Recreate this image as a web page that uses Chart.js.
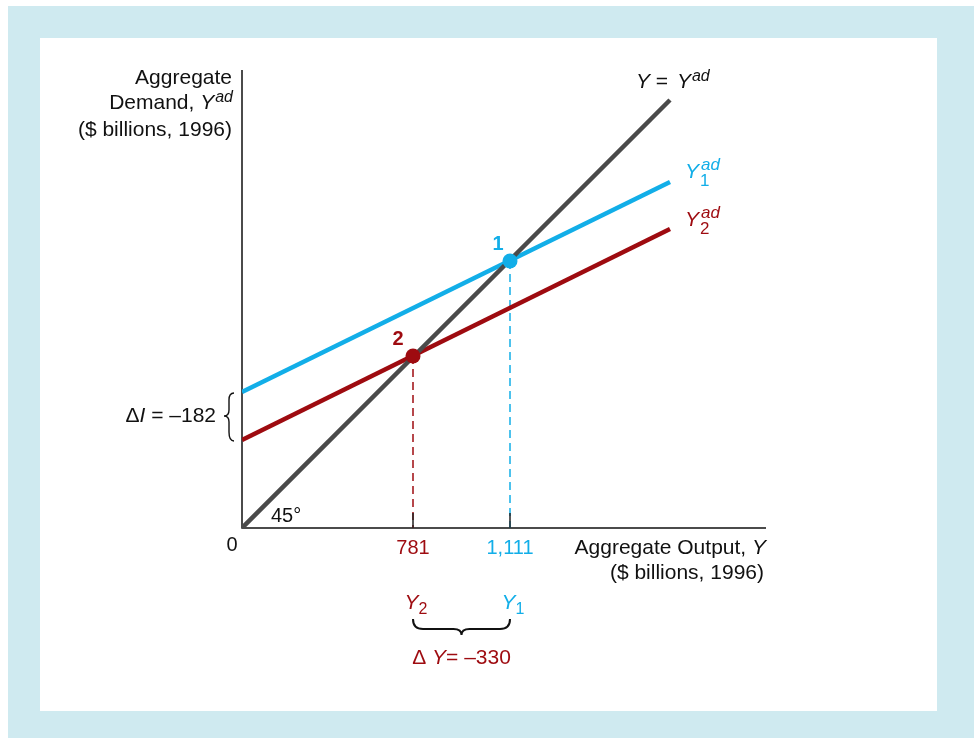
<!DOCTYPE html>
<html>
<head>
<meta charset="utf-8">
<script src="https://cdn.jsdelivr.net/npm/chart.js@4.4.1/dist/chart.umd.min.js"></script>
<style>
  html, body { margin: 0; padding: 0; background: #ffffff; }
  canvas { display: block; }
</style>
</head>
<body>
<canvas id="cross-chart" width="974" height="738"></canvas>
<script>
// diagram units (the textbook figure is schematic, not to scale)
const axisMaxX = 524;
const axisMaxY = 458;

const lineX = [0, 428];
const fortyFiveY = [0, 428];      // Y = Yad
const demand1Y = [136, 346];      // Y1ad
const demand2Y = [88, 299];       // Y2ad

const equilibriumX = [268, 171];  // point 1, point 2
const equilibriumY = [267, 172];
const equilibriumLabels = ['1', '2'];

const outputTicks = [171, 268];
const outputTickLabels = ['781', '1,111'];

const BLUE = '#12aee8';
const RED = '#9e0b10';
const GRAY = '#4a4a4a';
const FONT = "'Liberation Sans', Arial, sans-serif";
const FS = 21;

function pts(xs, ys) {
    return xs.map(function(x, i) { return { x: x, y: ys[i] }; });
}

// draws runs of text; each part: {t, italic, size, dy, color, bold}
function richText(ctx, parts, x, y, align) {
    let widths = parts.map(function(p) {
        ctx.font = (p.italic ? 'italic ' : '') + (p.bold ? 'bold ' : '') + (p.size || FS) + 'px ' + FONT;
        return p.w !== undefined ? p.w : ctx.measureText(p.t).width + (p.dx || 0);
    });
    let total = widths.reduce(function(a, b) { return a + b; }, 0);
    let cx = align === 'right' ? x - total : (align === 'center' ? x - total / 2 : x);
    ctx.textAlign = 'left';
    ctx.textBaseline = 'middle';
    parts.forEach(function(p, i) {
        ctx.font = (p.italic ? 'italic ' : '') + (p.bold ? 'bold ' : '') + (p.size || FS) + 'px ' + FONT;
        ctx.fillStyle = p.color || '#111';
        ctx.fillText(p.t, cx + (p.dx || 0), y + (p.dy || 0));
        cx += widths[i];
    });
}

const decorPlugin = {
    id: 'decor',
    beforeDraw: function(chart) {
        const ctx = chart.ctx;
        ctx.save();
        ctx.fillStyle = '#ffffff';
        ctx.fillRect(0, 0, chart.width, chart.height);
        ctx.fillStyle = '#cfeaf0';
        ctx.fillRect(8, 6, chart.width - 8, chart.height - 6);
        ctx.fillStyle = '#ffffff';
        ctx.fillRect(40, 38, 897, 673);
        ctx.restore();
    },
    beforeDatasetsDraw: function(chart) {
        const ctx = chart.ctx;
        const xs = chart.scales.x, ys = chart.scales.y;
        const x0 = xs.getPixelForValue(0), y0 = ys.getPixelForValue(0);
        ctx.save();
        ctx.strokeStyle = '#111';
        ctx.lineWidth = 1.5;
        ctx.beginPath();
        ctx.moveTo(x0, ys.getPixelForValue(axisMaxY));
        ctx.lineTo(x0, y0);
        ctx.lineTo(xs.getPixelForValue(axisMaxX), y0);
        ctx.stroke();
        ctx.restore();
    },
    afterDatasetsDraw: function(chart) {
        const ctx = chart.ctx;
        const xs = chart.scales.x, ys = chart.scales.y;
        const x0 = xs.getPixelForValue(0), y0 = ys.getPixelForValue(0);
        ctx.save();

        // tick marks and tick labels on output axis
        const tickColors = [RED, BLUE];
        outputTicks.forEach(function(v, i) {
            const px = xs.getPixelForValue(v);
            ctx.strokeStyle = '#222';
            ctx.lineWidth = 1.5;
            ctx.beginPath();
            ctx.moveTo(px, y0 - 15);
            ctx.lineTo(px, y0);
            ctx.stroke();
            richText(ctx, [{ t: outputTickLabels[i], color: tickColors[i], size: 20 }], px, y0 + 20, 'center');
        });
        richText(ctx, [{ t: '0', size: 20 }], x0 - 10, y0 + 17, 'center');

        // equilibrium labels
        const eqColors = [BLUE, RED];
        equilibriumX.forEach(function(v, i) {
            const px = xs.getPixelForValue(v), py = ys.getPixelForValue(equilibriumY[i]);
            richText(ctx, [{ t: equilibriumLabels[i], bold: true, color: eqColors[i], size: 20 }], px - 12 + (i ? -3 : 0), py - 17, 'center');
        });

        // y axis title
        richText(ctx, [{ t: 'Aggregate' }], x0 - 10, 78, 'right');
        richText(ctx, [{ t: 'Demand, ' }, { t: 'Y', italic: true }, { t: 'ad', italic: true, size: 16, dy: -5, dx: 1 }], x0 - 9, 103, 'right');
        richText(ctx, [{ t: '($ billions, 1996)' }], x0 - 10, 130, 'right');

        // x axis title
        const xEnd = xs.getPixelForValue(axisMaxX);
        richText(ctx, [{ t: 'Aggregate Output, ' }, { t: 'Y', italic: true }], xEnd, 548, 'right');
        richText(ctx, [{ t: '($ billions, 1996)' }], xEnd - 2, 573, 'right');

        // line labels
        const lx = xs.getPixelForValue(lineX[1]);
        richText(ctx, [{ t: 'Y', italic: true }, { t: ' = ' }, { t: 'Y', italic: true, dx: 3 }, { t: 'ad', italic: true, size: 16, dy: -5, dx: 1 }], lx - 34, 82, 'left');
        richText(ctx, [{ t: 'Y', italic: true, color: BLUE }, { t: 'ad', italic: true, size: 17, dy: -7, dx: 2, color: BLUE, w: 0 }, { t: '1', size: 17, dy: 9, dx: 1, color: BLUE }], lx + 15, 172, 'left');
        richText(ctx, [{ t: 'Y', italic: true, color: RED }, { t: 'ad', italic: true, size: 17, dy: -7, dx: 2, color: RED, w: 0 }, { t: '2', size: 17, dy: 9, dx: 1, color: RED }], lx + 15, 220, 'left');

        // 45 degree label
        richText(ctx, [{ t: '45°', size: 20 }], x0 + 29, 516, 'left');

        // delta I brace
        const yb1 = ys.getPixelForValue(demand1Y[0]), yb2 = ys.getPixelForValue(demand2Y[0]);
        const ym = (yb1 + yb2) / 2;
        ctx.strokeStyle = '#111';
        ctx.lineWidth = 1.4;
        ctx.beginPath();
        ctx.moveTo(x0 - 8, yb1 + 1);
        ctx.quadraticCurveTo(x0 - 13, yb1 + 1, x0 - 13, yb1 + 8);
        ctx.lineTo(x0 - 13, ym - 6);
        ctx.quadraticCurveTo(x0 - 13, ym, x0 - 18, ym);
        ctx.quadraticCurveTo(x0 - 13, ym, x0 - 13, ym + 6);
        ctx.lineTo(x0 - 13, yb2 - 8);
        ctx.quadraticCurveTo(x0 - 13, yb2 + 1, x0 - 8, yb2 + 1);
        ctx.stroke();
        richText(ctx, [{ t: 'Δ' }, { t: 'I', italic: true }, { t: ' = –182' }], x0 - 26, ym, 'right');

        // delta Y brace
        const bx1 = xs.getPixelForValue(outputTicks[0]), bx2 = xs.getPixelForValue(outputTicks[1]);
        const bm = (bx1 + bx2) / 2;
        richText(ctx, [{ t: 'Y', italic: true, color: RED }, { t: '2', size: 16, dy: 7, color: RED }], bx1 + 3, 603, 'center');
        richText(ctx, [{ t: 'Y', italic: true, color: BLUE }, { t: '1', size: 16, dy: 7, color: BLUE }], bx2 + 3, 603, 'center');
        ctx.strokeStyle = '#111';
        ctx.lineWidth = 2;
        ctx.beginPath();
        ctx.moveTo(bx1, 619);
        ctx.quadraticCurveTo(bx1, 629, bx1 + 10, 629);
        ctx.lineTo(bm - 8, 629);
        ctx.quadraticCurveTo(bm, 629, bm, 635);
        ctx.quadraticCurveTo(bm, 629, bm + 8, 629);
        ctx.lineTo(bx2 - 10, 629);
        ctx.quadraticCurveTo(bx2, 629, bx2, 619);
        ctx.stroke();
        richText(ctx, [{ t: 'Δ ', color: RED }, { t: 'Y', italic: true, color: RED }, { t: '= –330', color: RED }], bm, 658, 'center');

        ctx.restore();
    }
};

function initializeCrossChart() {
    const ctx = document.getElementById('cross-chart').getContext('2d');

    // first dataset is drawn on top
    window.crossChart = new Chart(ctx, {
        type: 'line',
        data: {
            datasets: [
                {
                    label: 'equilibria',
                    data: pts(equilibriumX, equilibriumY),
                    showLine: false,
                    pointRadius: 7.5,
                    pointBackgroundColor: [BLUE, RED],
                    pointBorderColor: [BLUE, RED],
                    pointBorderWidth: 0
                },
                {
                    label: 'Y = Yad',
                    data: pts(lineX, fortyFiveY),
                    borderColor: GRAY, borderWidth: 4.5, pointRadius: 0
                },
                {
                    label: 'Y1ad',
                    data: pts(lineX, demand1Y),
                    borderColor: BLUE, borderWidth: 4.5, pointRadius: 0
                },
                {
                    label: 'Y2ad',
                    data: pts(lineX, demand2Y),
                    borderColor: RED, borderWidth: 4.5, pointRadius: 0
                },
                {
                    label: 'drop 1',
                    data: [{ x: equilibriumX[0], y: equilibriumY[0] }, { x: equilibriumX[0], y: 0 }],
                    borderColor: BLUE, borderWidth: 1.5, borderDash: [8, 5], pointRadius: 0
                },
                {
                    label: 'drop 2',
                    data: [{ x: equilibriumX[1], y: equilibriumY[1] }, { x: equilibriumX[1], y: 0 }],
                    borderColor: RED, borderWidth: 1.5, borderDash: [8, 5], pointRadius: 0
                }
            ]
        },
        options: {
            responsive: false,
            animation: false,
            devicePixelRatio: 1,
            layout: { padding: { left: 242, right: 208, top: 70, bottom: 210 } },
            plugins: {
                legend: { display: false },
                tooltip: { enabled: false }
            },
            scales: {
                x: { type: 'linear', min: 0, max: axisMaxX, display: false },
                y: { type: 'linear', min: 0, max: axisMaxY, display: false }
            }
        },
        plugins: [decorPlugin]
    });
}

document.addEventListener('DOMContentLoaded', initializeCrossChart);
</script>
</body>
</html>
